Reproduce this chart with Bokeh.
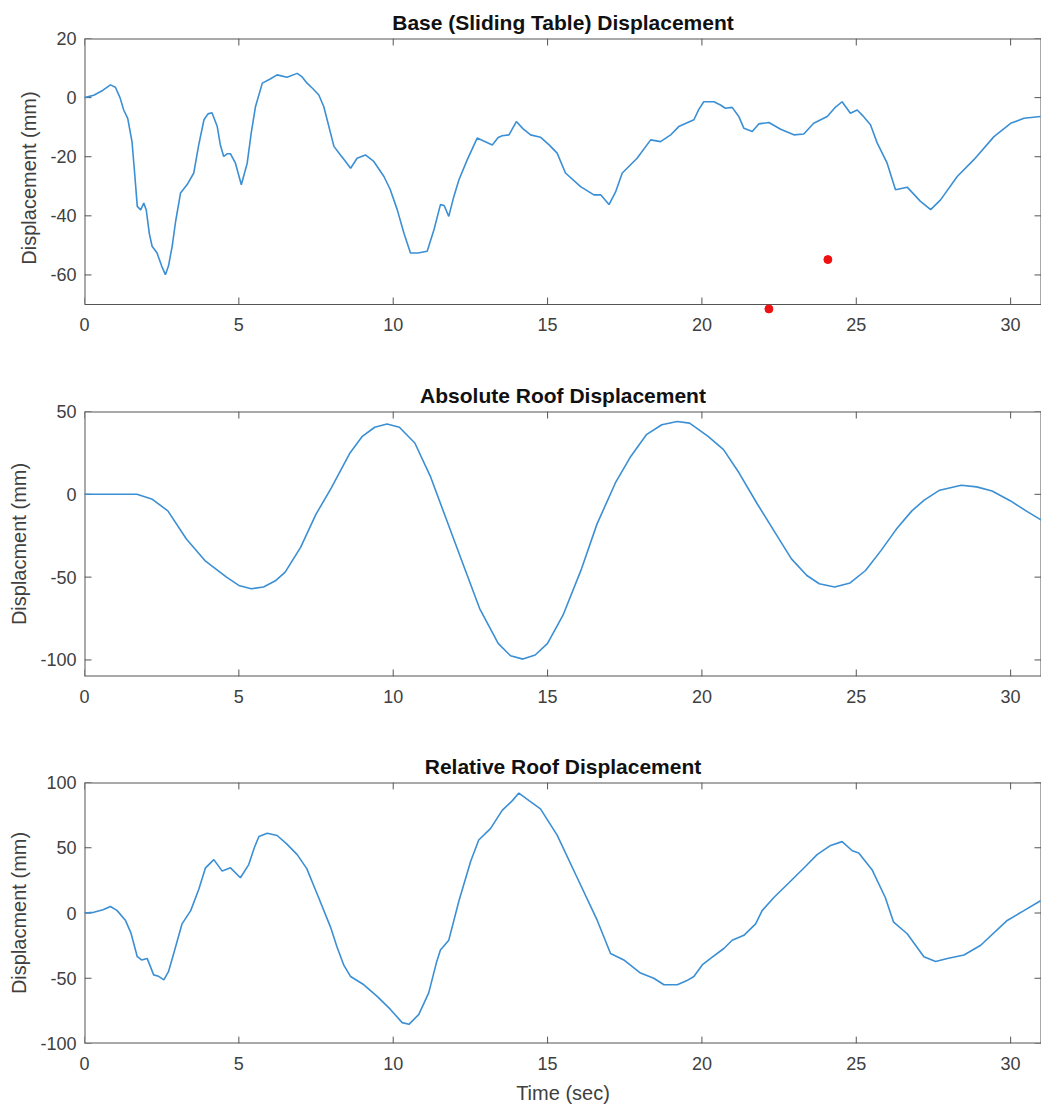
from bokeh.plotting import figure
from bokeh.models import Range1d, FixedTicker, PrintfTickFormatter
from bokeh.layouts import column
from bokeh.embed import file_html
from bokeh.resources import INLINE

# ---------------- data ----------------
base_t = [0, 0.3, 0.6, 0.84, 1.0, 1.15, 1.27, 1.4, 1.54, 1.62, 1.71, 1.82, 1.92, 2.0, 2.1, 2.19,
          2.35, 2.5, 2.62, 2.72, 2.84, 2.95, 3.11, 3.32, 3.54, 3.7, 3.87, 4.0, 4.13, 4.3, 4.4,
          4.51, 4.62, 4.73, 4.89, 5.08, 5.27, 5.4, 5.54, 5.76, 6.0, 6.24, 6.56, 6.89, 7.05, 7.21,
          7.4, 7.59, 7.75, 7.86, 8.08, 8.29, 8.45, 8.62, 8.83, 9.10, 9.37, 9.70, 9.9, 10.13,
          10.35, 10.56, 10.8, 11.10, 11.32, 11.53, 11.65, 11.80, 11.95, 12.13, 12.4, 12.72, 13.0,
          13.21, 13.4, 13.53, 13.75, 13.99, 14.2, 14.45, 14.77, 15.05, 15.31, 15.58, 16.07, 16.50,
          16.72, 16.99, 17.2, 17.42, 17.90, 18.34, 18.66, 19.0, 19.25, 19.74, 19.9, 20.06, 20.39,
          20.6, 20.76, 20.98, 21.2, 21.36, 21.63, 21.84, 22.17, 22.55, 22.98, 23.30, 23.62, 24.06,
          24.3, 24.54, 24.81, 25.03, 25.2, 25.46, 25.68, 26.0, 26.27, 26.65, 27.08, 27.41, 27.73,
          28.27, 28.81, 29.46, 30.0, 30.43, 30.97]
base_y = [0, 0.8, 2.5, 4.3, 3.5, 0, -4.2, -7, -15, -25, -36.8, -38, -35.7, -38, -46, -50.3,
          -52.6, -57, -59.9, -57, -50.3, -42, -32.3, -29.5, -25.5, -16, -7.5, -5.5, -5.1, -9.8, -16,
          -19.9, -19, -19, -22.2, -29.5, -22.2, -12, -3, 4.9, 6.2, 7.7, 6.9, 8.2, 7, 4.9,
          3, 0.9, -3, -7.5, -16.5, -19.4, -21.5, -23.9, -20.5, -19.4, -21.6, -26.7, -31, -37.9,
          -46, -52.6, -52.6, -52, -44.7, -36.2, -36.5, -40.2, -34, -27.8, -21, -13.7, -15,
          -16, -13.5, -12.9, -12.6, -8.1, -10.5, -12.6, -13.4, -16, -18.8, -25.5, -30.1, -32.9,
          -32.9, -36.2, -32, -25.5, -20.5, -14.3, -14.9, -12.5, -9.8, -7.5, -4, -1.4, -1.4,
          -2.5, -3.6, -3.3, -6.5, -10.4, -11.5, -8.9, -8.4, -10.7, -12.6, -12.3, -8.7, -6.4,
          -3.5, -1.4, -5.3, -4.2, -6, -9.2, -15.4, -22.2, -31.2, -30.3, -35.1, -37.9, -34.6,
          -26.7, -21, -13.2, -8.7, -7, -6.4]

marker_t = [22.17, 24.08]
marker_y = [-71.5, -54.8]

abs_t = [0, 1.0, 1.7, 2.2, 2.7, 3.3, 3.9, 4.6, 5.0, 5.4, 5.8, 6.2, 6.5, 7.0, 7.5, 8.0, 8.6,
         9.0, 9.4, 9.8, 10.2, 10.7, 11.2, 11.7, 12.3, 12.8, 13.4, 13.8, 14.2, 14.6, 15.0, 15.5,
         16.1, 16.6, 17.2, 17.7, 18.2, 18.7, 19.2, 19.6, 20.2, 20.7, 21.2, 21.8, 22.4, 22.9,
         23.4, 23.8, 24.3, 24.8, 25.3, 25.8, 26.3, 26.8, 27.2, 27.7, 28.4, 28.9, 29.4, 30.0,
         30.5, 31.0]
abs_y = [0, 0, 0, -3, -10, -27, -40, -50, -55, -57, -56, -52, -47, -32, -12, 4, 25,
         35, 40.5, 42.5, 40.5, 31, 11, -14, -44, -69, -90, -97.5, -99.5, -97, -90, -73,
         -45, -18, 7, 23, 36, 42, 44, 43, 35, 27, 13, -6, -24, -39,
         -49, -54, -56, -53.5, -46, -34, -21, -10, -3.5, 2.5, 5.5, 4.5, 2, -4,
         -10, -15.6]

rel_t = [0, 0.3, 0.6, 0.84, 1.05, 1.33, 1.5, 1.71, 1.85, 2.03, 2.24, 2.4, 2.57, 2.72, 2.89,
         3.16, 3.44, 3.7, 3.92, 4.19, 4.46, 4.73, 5.05, 5.32, 5.5, 5.65, 5.92, 6.24, 6.55, 6.89,
         7.2, 7.54, 7.97, 8.18, 8.4, 8.62, 9.05, 9.48, 9.91, 10.29, 10.51, 10.83, 11.15, 11.4,
         11.53, 11.80, 12.13, 12.51, 12.77, 13.15, 13.53, 13.86, 14.07, 14.40, 14.77, 15.31,
         15.96, 16.61, 17.04, 17.47, 18.01, 18.44, 18.77, 19.20, 19.50, 19.74, 20.01, 20.28,
         20.71, 20.98, 21.36, 21.74, 21.95, 22.33, 22.82, 23.36, 23.73, 24.17, 24.54, 24.87,
         25.08, 25.51, 25.94, 26.21, 26.65, 27.19, 27.57, 27.95, 28.49, 29.03, 29.89, 30.43, 30.97]
rel_y = [0, 0.5, 2.5, 5, 2, -5.8, -15, -33.5, -36, -34.8, -47.4, -48.5, -51.2, -45, -31,
         -8.3, 1.8, 18, 34.6, 40.9, 32.1, 34.6, 27, 37.1, 50, 58.6, 61.1, 59.4, 53, 44.7,
         34, 14.4, -10.8, -26, -40, -48.7, -55, -63.9, -73.9, -84, -85.3, -77.7, -61.2, -38,
         -28.4, -20.8, 9.4, 39.6, 55.9, 64.7, 78.6, 86.1, 91.9, 86.1, 79.8, 59.7,
         27, -5.7, -31, -36, -46, -50, -55, -55, -52, -48.7, -39.8, -34.8,
         -27.2, -20.9, -17.1, -8.3, 1.8, 11.9, 23.2, 35.8, 44.7, 51.8, 54.7, 47.7,
         46, 33.2, 11.9, -7, -15.9, -33.5, -37.2, -34.8, -32.2, -24.7, -5.7, 1.8, 9.4]

x_ticks = [0, 5, 10, 15, 20, 25, 30]
base_ticks = [-60, -40, -20, 0, 20]
abs_ticks = [-100, -50, 0, 50]
rel_ticks = [-100, -50, 0, 50, 100]

titles = ["Base (Sliding Table) Displacement", "Absolute Roof Displacement", "Relative Roof Displacement"]
ylabels = ["Displacement (mm)", "Displacment (mm)", "Displacment (mm)"]
xlabel = "Time (sec)"

# ---------------- style ----------------
FONT = "Liberation Sans"
LINE = "#3b8fd4"
AX = "#555555"
TXT = "#404040"
X_MAX = 31.0
FRAME_W = 957
TICK_PX = 7


def style_axis(ax, ticks):
    ax.ticker = FixedTicker(ticks=ticks)
    ax.formatter = PrintfTickFormatter(format="%d")
    ax.major_tick_line_color = None
    ax.minor_tick_line_color = None
    ax.major_tick_in = 0
    ax.major_tick_out = 0
    ax.minor_tick_in = 0
    ax.minor_tick_out = 0
    ax.axis_line_color = None
    ax.major_label_text_font = FONT
    ax.major_label_text_font_size = "18px"
    ax.major_label_text_color = TXT
    ax.axis_label_text_font = FONT
    ax.axis_label_text_font_size = "20px"
    ax.axis_label_text_font_style = "normal"
    ax.axis_label_text_color = TXT


def make_fig(top, frame_h, bottom, y_view, y_box, yticks, title, ylabel,
             show_xlabel=False, x_standoff=13):
    """y_view: visible data range of the frame; y_box: range enclosed by the drawn box."""
    p = figure(width=1041, height=top + frame_h + bottom,
               x_range=Range1d(0, X_MAX), y_range=Range1d(*y_view),
               output_backend="svg", toolbar_location=None,
               min_border_left=84, min_border_right=0, min_border_top=top,
               min_border_bottom=bottom)
    p.title.text = title
    p.title.align = "center"
    p.title.text_font = FONT
    p.title.text_font_size = "21px"
    p.title.text_font_style = "bold"
    p.title.text_color = "#111111"
    p.title.standoff = 10
    p.grid.visible = False
    p.outline_line_color = None
    p.background_fill_color = "white"
    p.border_fill_color = "white"
    style_axis(p.xaxis[0], x_ticks)
    p.xaxis.major_label_standoff = x_standoff
    style_axis(p.yaxis[0], yticks)
    p.yaxis.major_label_standoff = 8
    p.yaxis.axis_label = ylabel
    p.yaxis.axis_label_standoff = 7
    if show_xlabel:
        p.xaxis.axis_label = xlabel
        p.xaxis.axis_label_standoff = 9

    # box (MATLAB style) and inward ticks on all four sides
    ux = X_MAX / FRAME_W
    uy = (y_view[1] - y_view[0]) / frame_h
    yb, yt = y_box
    # edges lying on the frame border are half clipped -> width 2 shows 1px
    bottom_on_edge = abs(yb - y_view[0]) < 1e-9
    p.segment(x0=[0, 0, X_MAX], y0=[yb, yt, yb], x1=[0, X_MAX, X_MAX], y1=[yt, yt, yt],
              line_color=AX, line_width=2)
    p.segment(x0=[0], y0=[yb], x1=[X_MAX], y1=[yb], line_color=AX,
              line_width=2 if bottom_on_edge else 1)
    tx0, ty0, tx1, ty1 = [], [], [], []
    for xt in x_ticks:
        tx0 += [xt, xt]
        tx1 += [xt, xt]
        ty0 += [yb, yt]
        ty1 += [yb + TICK_PX * uy, yt - TICK_PX * uy]
    for ytk in yticks:
        tx0 += [0, X_MAX]
        tx1 += [TICK_PX * ux, X_MAX - TICK_PX * ux]
        ty0 += [ytk, ytk]
        ty1 += [ytk, ytk]
    p.segment(x0=tx0, y0=ty0, x1=tx1, y1=ty1, line_color=AX, line_width=1)
    return p


# plot 1: frame extended below -70 so the out-of-box marker stays visible
base_box = (-70, 20)
px_per_unit1 = 266 / (base_box[1] - base_box[0])
ext_px = 13
base_view = (base_box[0] - ext_px / px_per_unit1, base_box[1])
p1 = make_fig(38, 266 + ext_px, 66 - ext_px, base_view, base_box, base_ticks,
              titles[0], ylabels[0], x_standoff=13 - ext_px)
p1.line(base_t, base_y, line_color=LINE, line_width=1.6)
p1.scatter(marker_t, marker_y, size=8, color="#ee1111")

p2 = make_fig(41, 265, 69, (-110, 50), (-110, 50), abs_ticks, titles[1], ylabels[1])
p2.line(abs_t, abs_y, line_color=LINE, line_width=1.6)

p3 = make_fig(37, 266, 58, (-100, 100), (-100, 100), rel_ticks, titles[2], ylabels[2],
              show_xlabel=True)
p3.line(rel_t, rel_y, line_color=LINE, line_width=1.6)

layout = column(p1, p2, p3, spacing=0)
open("out.html", "w").write(file_html(layout, INLINE))
